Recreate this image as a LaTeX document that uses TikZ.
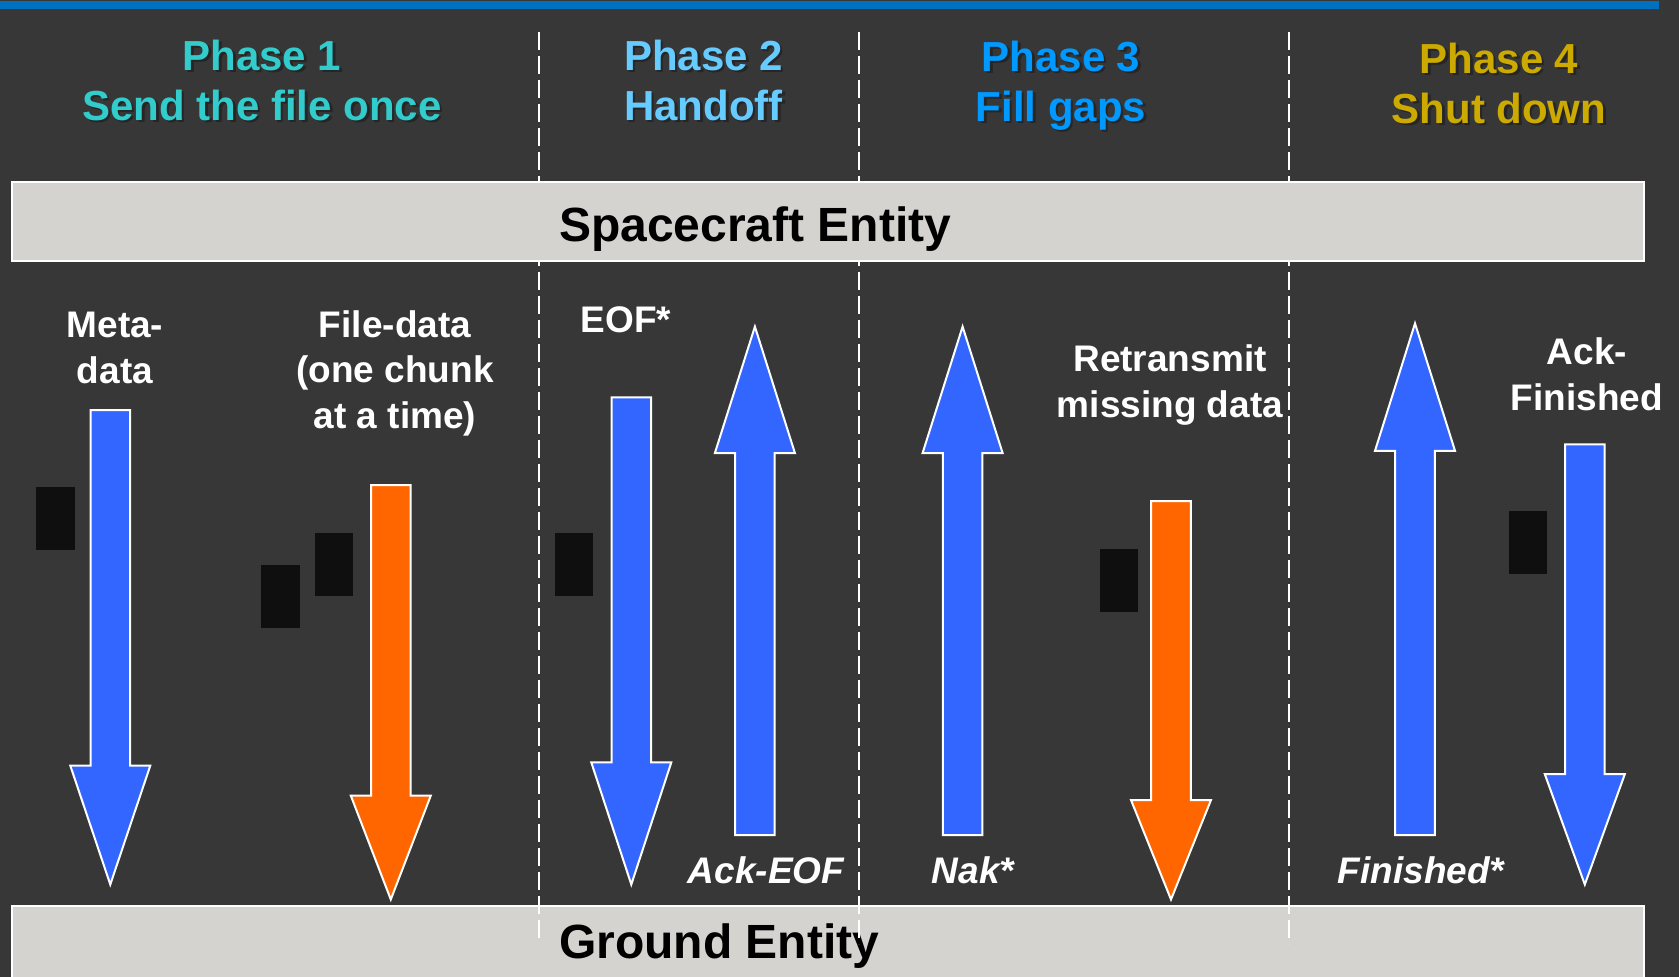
\documentclass[tikz,border=0pt]{standalone}
\usepackage{fontspec}
\setmainfont{Liberation Sans}
\definecolor{bg}{HTML}{373737}
\definecolor{topblue}{HTML}{0070C0}
\definecolor{boxgray}{HTML}{D4D3D0}
\definecolor{arrblue}{HTML}{3366FF}
\definecolor{arrorange}{HTML}{FF6600}
\definecolor{nearblack}{HTML}{0F0F0F}
\definecolor{ph1}{HTML}{33CCCC}
\definecolor{ph2}{HTML}{66CCFF}
\definecolor{ph3}{HTML}{0099FF}
\definecolor{ph4}{HTML}{CCAA00}
\tikzset{
  entity/.style={fill=boxgray, draw=white, line width=2pt},
  divider/.style={draw=white, line width=1.8pt, dash pattern=on 18pt off 6pt},
  phasetxt/.style={font=\fontsize{42}{50}\selectfont\bfseries, align=center, anchor=base, inner sep=0pt},
  lbl/.style={text=white, font=\fontsize{37}{45.5}\selectfont\bfseries, align=center, anchor=base, inner sep=0pt},
  ilbl/.style={lbl, font=\fontsize{37}{45.5}\selectfont\bfseries\itshape},
  enttxt/.style={font=\fontsize{48}{56}\selectfont\bfseries, anchor=base west, inner sep=0pt, text=black},
  arrowsty/.style={draw=white, line width=2pt, line join=miter},
  blackbox/.style={fill=nearblack}
}
% #1 colour, #2 centre x, #3 tail y, #4 head-base y, #5 tip y
\newcommand\bigarr[5]{%
  \filldraw[arrowsty, fill=#1] (#2-19.8,#3) -- (#2+19.8,#3) -- (#2+19.8,#4) -- (#2+40,#4) -- (#2,#5) -- (#2-40,#4) -- (#2-19.8,#4) -- cycle;}
\newcommand\phasetitle[5]{%
  \node[phasetxt, text=black!85, xshift=2.5pt, yshift=-2.5pt] (#1s) at (#2,#3) {#5};
  \node[phasetxt, text=#4] (#1) at (#2,#3) {#5};}
\newcommand\blk[3]{\fill[blackbox] (#2,#3) rectangle ++(38.5,63) coordinate (#1);}
\begin{document}
\begin{tikzpicture}[x=1pt,y=-1pt]
\useasboundingbox (0,0) rectangle (1679,977);
\clip (0,0) rectangle (1679,977);
\fill[bg] (0,0) rectangle (1679,977);
\fill[topblue] (0,0.5) rectangle (1659,9);

% ground entity box (under dividers)
\node[entity, minimum width=1632pt, minimum height=100pt, anchor=north west, inner sep=0pt] (ground) at (10.7,905) {};
\node[enttxt] (groundtxt) at (559,958) {Ground Entity};

% dividers
\foreach \n/\x in {d1/538.6, d2/858.8, d3/1289.2}{
  \coordinate (\n t) at (\x,32);
  \coordinate (\n b) at (\x,944);
  \draw[divider] (\n t) -- (\n b);
}

% spacecraft entity box
\node[entity, minimum width=1632pt, minimum height=79pt, anchor=north west, inner sep=0pt] (space) at (10.7,181) {};
\node[enttxt] (spacetxt) at (559,241) {Spacecraft Entity};

% phase titles (anchor = baseline of last line)
\phasetitle{p1}{262}{120}{ph1}{Phase 1\\Send the file once}
\phasetitle{p2}{703.5}{120}{ph2}{Phase 2\\Handoff}
\phasetitle{p3}{1061}{121}{ph3}{Phase 3\\Fill gaps}
\phasetitle{p4}{1499}{123}{ph4}{Phase 4\\Shut down}

% black boxes
\blk{b1}{36.4}{487.2}
\blk{b2}{261.3}{565.4}
\blk{b3}{314.8}{533.3}
\blk{b4}{554.7}{533.3}
\blk{b5}{1099.7}{549.3}
\blk{b6}{1508.8}{510.8}

% arrows
\bigarr{arrblue}{110.3}{410}{765.6}{884.5}
\bigarr{arrorange}{390.8}{485}{795.6}{899.5}
\bigarr{arrblue}{631.3}{397.3}{762.4}{884.5}
\bigarr{arrblue}{754.9}{835.2}{453}{326.6}
\bigarr{arrblue}{962.6}{835.2}{453}{326.6}
\bigarr{arrorange}{1171}{501}{800}{899.5}
\bigarr{arrblue}{1415}{835.2}{450.8}{323.4}
\bigarr{arrblue}{1584.8}{444.4}{774.2}{884.5}

% labels (anchor = baseline of last line)
\node[lbl] (meta) at (115,383) {Meta-\\data};
\node[lbl] (filedata) at (395,428) {File-data\\(one chunk\\at a time)};
\node[lbl] (eof) at (626,332) {EOF*};
\node[ilbl] (ackeof) at (766,883) {Ack-EOF};
\node[ilbl] (nak) at (973,883) {Nak*};
\node[lbl] (retx) at (1170,417) {Retransmit\\missing data};
\node[ilbl] (fin) at (1421,883) {Finished*};
\node[lbl] (ackfin) at (1587,410) {Ack-\\Finished};
\end{tikzpicture}
\end{document}
